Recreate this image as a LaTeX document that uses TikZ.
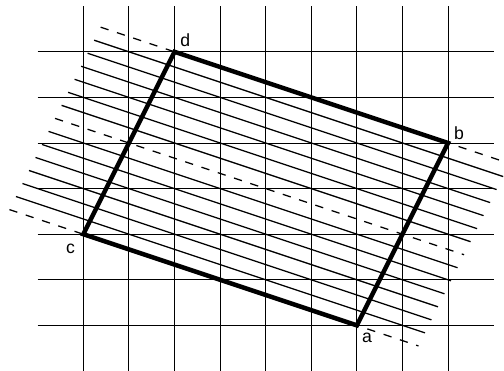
\documentclass[tikz,border=0pt]{standalone}
\usepackage{fontspec}
\setmainfont{Liberation Sans}
\usetikzlibrary{calc,positioning}

\begin{document}
\begin{tikzpicture}[
    every node/.style={font=\fontsize{11}{13}\selectfont, inner sep=2pt},
    gridline/.style={line width=0.6pt},
    hatch/.style={line width=0.8pt},
    hatchdash/.style={hatch, dash pattern=on 5.2pt off 5.5pt},
    edge/.style={line width=2.8pt},
]
\useasboundingbox (-1.827,-1) rectangle (9.226,7.136);

% grid
\foreach \x in {0,...,8} \draw[gridline] (\x,-1) -- (\x,7);
\foreach \y in {0,...,6} \draw[gridline] (-1,\y) -- (9,\y);

\coordinate (a) at (6,0);
\coordinate (b) at (8,4);
\coordinate (c) at (0,2);
\coordinate (d) at (2,6);

% parallel lines
\foreach \i in {1,2,3,4,5,6,8,9,10,11,12,13}
  \draw[hatch] ($(c)!\i/14!(d)+(-1.62,0.54)$) -- ($(a)!\i/14!(b)+(1.35,-0.45)$);
\foreach \i in {0,7,14}
  \draw[hatchdash] ($(c)!\i/14!(d)+(-1.62,0.54)$) -- ($(a)!\i/14!(b)+(1.35,-0.45)$);

\draw[edge] (a) -- (b) -- (d) -- (c) -- cycle;

\node[above right=1pt and 1.5pt of d] (dlab) {d};
\node[above right=0pt and 1.5pt of b] (blab) {b};
\node[below left=4pt and 3pt of c] (clab) {c};
\node[below right=2.5pt and 1pt of a] (alab) {a};
\end{tikzpicture}
\end{document}
